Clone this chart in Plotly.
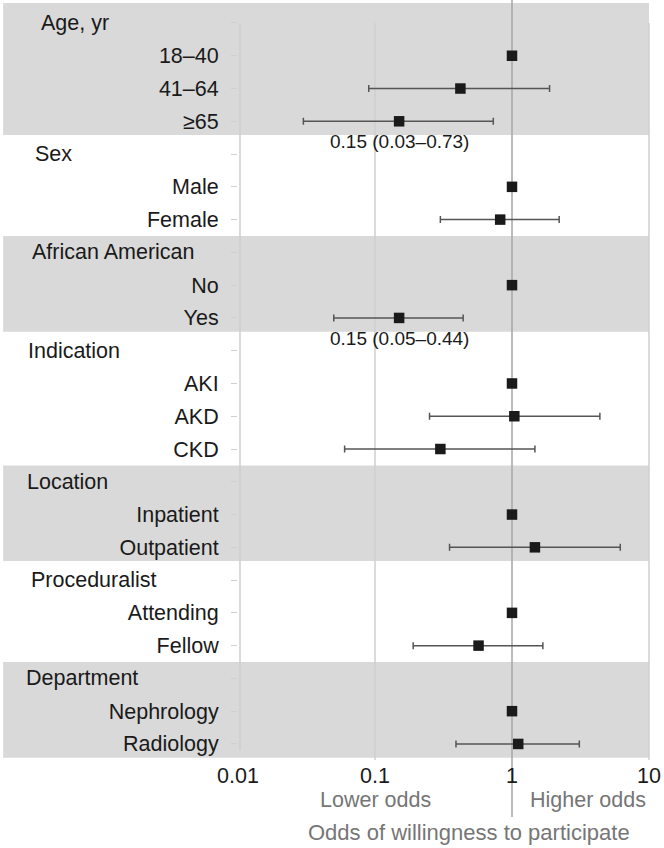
import numpy as np
import plotly.graph_objects as go

# ---------------- data ----------------
group_names = ["Age, yr", "Sex", "African American", "Indication",
               "Location", "Proceduralist", "Department"]
group_levels = [["18–40", "41–64", "≥65"],
                ["Male", "Female"],
                ["No", "Yes"],
                ["AKI", "AKD", "CKD"],
                ["Inpatient", "Outpatient"],
                ["Attending", "Fellow"],
                ["Nephrology", "Radiology"]]
odds_ratio = [[1.0, 0.42, 0.15],
              [1.0, 0.82],
              [1.0, 0.15],
              [1.0, 1.04, 0.30],
              [1.0, 1.47],
              [1.0, 0.57],
              [1.0, 1.11]]
ci_low = [[None, 0.09, 0.03],
          [None, 0.30],
          [None, 0.05],
          [None, 0.25, 0.06],
          [None, 0.35],
          [None, 0.19],
          [None, 0.39]]
ci_high = [[None, 1.88, 0.73],
           [None, 2.21],
           [None, 0.44],
           [None, 4.38, 1.47],
           [None, 6.17],
           [None, 1.68],
           [None, 3.10]]
shaded_groups = [0, 2, 4, 6]
# significant results labelled below their row: (group, level, text)
sig_labels = [(0, 2, "0.15 (0.03–0.73)"), (2, 1, "0.15 (0.05–0.44)")]
x_tickvals = [0.01, 0.1, 1, 10]
x_ticktext = ["0.01", "0.1", "1", "10"]

# ---------------- layout geometry / style ----------------
W, H = 664, 848
ML, MR, MT, MB = 238, 13, 3, 88
PW, PH = W - ML - MR, H - MT - MB
XR = [-2, 1]              # log10 range
YR = [22.49, -0.61]       # reversed row range (bottom, top)
header_left_px = [38, 32, 29, 25, 24, 28, 23]   # left edge of group headers

def px_x(px):   # pixel -> paper x
    return (px - ML) / PW

def px_y(py):   # pixel -> paper y
    return (H - MB - py) / PH

def row_y(v):   # data row -> paper y
    return (YR[0] - v) / (YR[0] - YR[1])

def logx_paper(v):
    return (np.log10(v) - XR[0]) / (XR[1] - XR[0])

FONT = "Liberation Sans, Arial, sans-serif"
TXT = "#1a1a1a"
GREY_TXT = "#767676"
FS = 21.5

# flatten rows
row_labels, row_vals = [], []
pt_y, pt_x, err_p, err_m = [], [], [], []
header_rows, group_spans = [], []
r = 0
for g, name in enumerate(group_names):
    header_rows.append(r)
    row_labels.append("")
    row_vals.append(r)
    start = r
    r += 1
    for k, lev in enumerate(group_levels[g]):
        row_labels.append(lev)
        row_vals.append(r)
        orv = odds_ratio[g][k]
        pt_y.append(r)
        pt_x.append(orv)
        lo = ci_low[g][k]
        hi = ci_high[g][k]
        err_p.append(hi - orv if hi is not None else 0)
        err_m.append(orv - lo if lo is not None else 0)
        r += 1
    group_spans.append((start, r - 1))

fig = go.Figure()

fig.add_trace(go.Scatter(
    x=pt_x, y=pt_y, mode="markers",
    marker=dict(symbol="square", size=10.5, color=TXT),
    error_x=dict(type="data", symmetric=False, array=err_p, arrayminus=err_m,
                 color="#555555", thickness=1.5, width=3.5),
    showlegend=False, hoverinfo="skip"))

shapes = []
# shaded group bands
for g in shaded_groups:
    s, e = group_spans[g]
    top = YR[1] if s == 0 else s - 0.5
    shapes.append(dict(type="rect", xref="paper", yref="paper",
                       x0=px_x(2), x1=1, y0=row_y(e + 0.42), y1=row_y(top),
                       fillcolor="#d9d9d9", line=dict(width=0), layer="below"))
# vertical gridlines (0.01 axis line, 0.1, 10)
for v in [0.01, 0.1, 10]:
    shapes.append(dict(type="line", xref="paper", yref="paper",
                       x0=logx_paper(v) + (2 / PW if v == 0.01 else 0),
                       x1=logx_paper(v) + (2 / PW if v == 0.01 else 0),
                       y0=row_y(YR[0] if v != 0.01 else 22.2), y1=row_y(0),
                       line=dict(color="#cfcfcf", width=1.5), layer="below"))
# reference line at OR = 1, extending above and below plot
shapes.append(dict(type="line", xref="paper", yref="paper",
                   x0=logx_paper(1), x1=logx_paper(1),
                   y0=px_y(817), y1=px_y(0),
                   line=dict(color="#a6a6a6", width=1.5), layer="below"))

annotations = []
for g, name in enumerate(group_names):
    annotations.append(dict(text=name, xref="paper", yref="y",
                            x=px_x(header_left_px[g]), y=header_rows[g],
                            xanchor="left", yanchor="middle", showarrow=False,
                            font=dict(family=FONT, size=FS, color=TXT)))
for g, k, txt in sig_labels:
    annotations.append(dict(text=txt, xref="x", yref="y",
                            x=np.log10(odds_ratio[g][k]),
                            y=group_spans[g][0] + 1 + k + 0.62,
                            xanchor="center", yanchor="middle", showarrow=False,
                            font=dict(family=FONT, size=19, color=TXT)))
annotations.append(dict(text="Lower odds", xref="x", yref="paper",
                        x=np.log10(0.1), y=px_y(800), xanchor="center",
                        yanchor="middle", showarrow=False,
                        font=dict(family=FONT, size=FS, color=GREY_TXT)))
annotations.append(dict(text="Higher odds", xref="x", yref="paper",
                        x=np.log10(10), y=px_y(800), xanchor="right",
                        yanchor="middle", showarrow=False, xshift=-1,
                        font=dict(family=FONT, size=FS, color=GREY_TXT)))
annotations.append(dict(text="Odds of willingness to participate",
                        xref="paper", yref="paper",
                        x=px_x(470), y=px_y(832), xanchor="center",
                        yanchor="middle", showarrow=False,
                        font=dict(family=FONT, size=22, color=GREY_TXT)))

fig.update_layout(
    width=W, height=H,
    margin=dict(l=ML, r=MR, t=MT, b=MB, pad=0),
    paper_bgcolor="white", plot_bgcolor="rgba(0,0,0,0)",
    shapes=shapes, annotations=annotations,
    xaxis=dict(type="log", range=XR, tickvals=x_tickvals, ticktext=x_ticktext,
               showgrid=False, zeroline=False, showline=False, ticks="",
               tickfont=dict(family=FONT, size=FS, color=TXT)),
    yaxis=dict(range=YR, tickvals=row_vals, ticktext=row_labels,
               showgrid=False, zeroline=False, showline=False,
               ticks="outside", ticklen=6, tickcolor="#cfcfcf", tickwidth=1,
               ticklabelstandoff=8,
               tickfont=dict(family=FONT, size=FS, color=TXT)),
)

fig.write_html("out.html", config={"displayModeBar": False},
               post_script="document.body.style.margin='0';"
                           "document.body.style.padding='0';")
